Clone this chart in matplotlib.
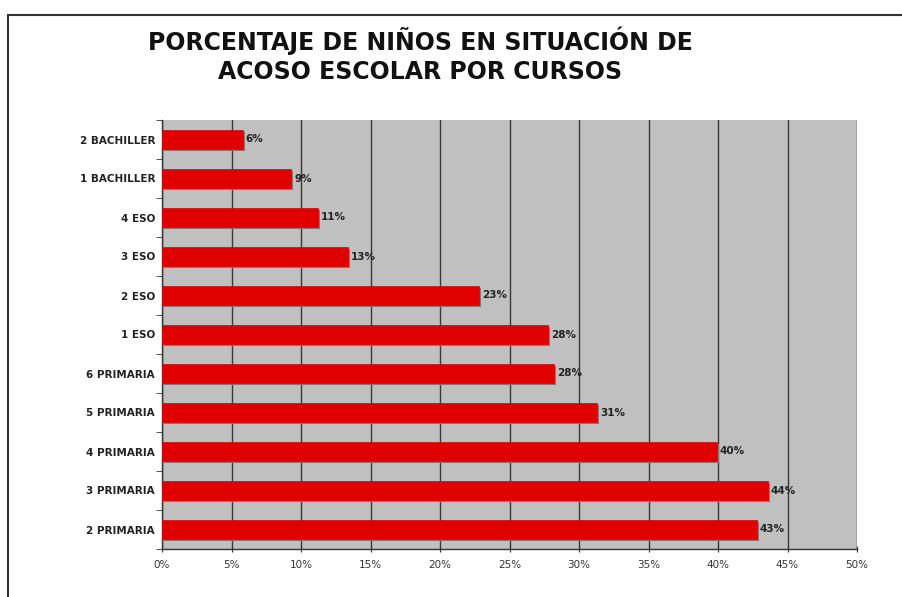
import matplotlib
matplotlib.use("Agg")
import matplotlib.pyplot as plt
import matplotlib.transforms as mtransforms
from matplotlib.patches import Rectangle
from matplotlib.ticker import FixedLocator

categories = ["2 BACHILLER", "1 BACHILLER", "4 ESO", "3 ESO", "2 ESO", "1 ESO",
              "6 PRIMARIA", "5 PRIMARIA", "4 PRIMARIA", "3 PRIMARIA", "2 PRIMARIA"]
values = [5.8, 9.3, 11.2, 13.4, 22.8, 27.8, 28.2, 31.3, 39.9, 43.6, 42.8]
value_labels = ["6%", "9%", "11%", "13%", "23%", "28%", "28%", "31%", "40%", "44%", "43%"]
x_ticks = [0, 5, 10, 15, 20, 25, 30, 35, 40, 45, 50]
x_tick_labels = ["0%", "5%", "10%", "15%", "20%", "25%", "30%", "35%", "40%", "45%", "50%"]
title = "PORCENTAJE DE NIÑOS EN SITUACIÓN DE\nACOSO ESCOLAR POR CURSOS"

fig = plt.figure(figsize=(9.02, 5.97), dpi=100)
fig.patch.set_facecolor("white")
# outer chart frame
fig.patches.append(Rectangle((8 / 902, -0.05), 1.1, 1 - 15 / 597 + 0.05,
                             transform=fig.transFigure, fill=False,
                             edgecolor="#333333", linewidth=1.5))

ax = fig.add_axes([162 / 902, 1 - 549 / 597, (857 - 162) / 902, (549 - 120) / 597])
ax.set_facecolor("#c0c0c0")

n = len(categories)
ypos = list(range(n))

# shadow
shadow_tr = mtransforms.offset_copy(ax.transData, fig=fig, x=2, y=-2, units="dots")
ax.barh(ypos, values, height=0.5, color="#7a7a7a", transform=shadow_tr, zorder=2)
bars = ax.barh(ypos, values, height=0.5, color="#e00000", edgecolor="#e00000",
               linewidth=0.5, zorder=3)

for b, lab in zip(bars, value_labels):
    ax.text(b.get_width() + 0.2, b.get_y() + b.get_height() / 2, lab,
            va="center", ha="left", fontsize=7.5, fontweight="bold",
            color="#222222", family="DejaVu Sans", zorder=4)

ax.set_xlim(0, 50)
ax.set_ylim(n - 0.5, -0.5)
ax.set_xticks(x_ticks)
ax.set_xticklabels(x_tick_labels, fontsize=7.5, color="#333333")
ax.set_yticks(ypos)
ax.set_yticklabels(categories, fontsize=7.5, fontweight="bold", color="#222222")
ax.tick_params(axis="y", length=0, pad=5)
ax.yaxis.set_minor_locator(FixedLocator([i - 0.5 for i in range(n + 1)]))
ax.tick_params(axis="y", which="minor", length=4, direction="out", color="#333333")
ax.tick_params(axis="x", length=4, direction="inout", color="#333333", pad=6)

ax.grid(axis="x", color="#3a3a3a", linewidth=1.0, zorder=1)
ax.set_axisbelow(True)
for s in ["top", "right"]:
    ax.spines[s].set_visible(False)
for s in ["left", "bottom"]:
    ax.spines[s].set_color("#333333")
    ax.spines[s].set_linewidth(1.0)

fig.text(420 / 902, 1 - 55 / 597, title, ha="center", va="center",
         fontsize=17, fontweight="bold", family="DejaVu Sans",
         color="#111111", linespacing=1.25)

fig.savefig("out.png", dpi=100)
